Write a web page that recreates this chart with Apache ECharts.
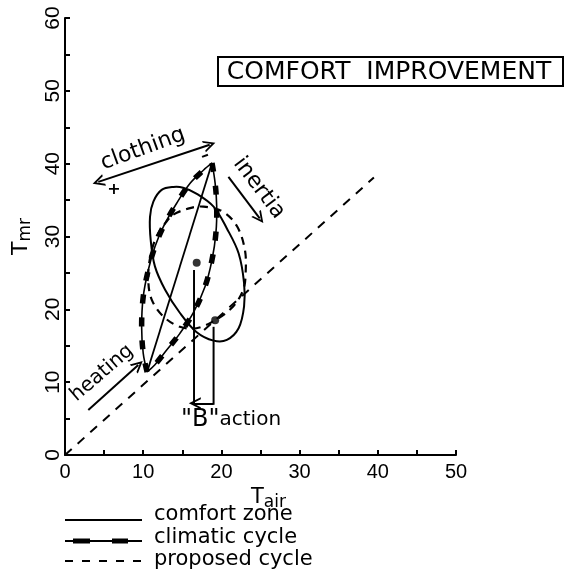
<!DOCTYPE html>
<html><head><meta charset="utf-8">
<script src="https://cdn.jsdelivr.net/npm/echarts@6/dist/echarts.min.js"></script>
<style>html,body{margin:0;padding:0;background:#fff}#c{width:568px;height:579px}</style>
</head><body><div id="c"></div>
<script>
// ---- data (Tair, Tmr) ----
const diagonalLine = [[0,0],[39.5,38.1]];
const comfortZone = [[13.85,36.8],[12.36,36.4],[11.3,34.8],[10.87,32.7],[10.96,29.5],[11.5,25.9],[12.8,22.7],[14.7,19.5],[16.8,16.9],[19.0,15.7],[20.7,15.8],[22.2,17.4],[22.9,20.4],[22.9,23.6],[22.2,27.7],[20.7,31.1],[19.0,34.1],[16.8,35.9],[15.1,36.7]];
const comfortDiagonal = [[10.5,11.4],[18.8,40.1]];
const climaticLeft = [[10.5,11.4],[10.0,14.0],[9.8,17.6],[10.0,21.7],[10.65,25.4],[11.5,28.6],[12.6,31.4],[14.3,34.6],[16.0,37.3],[17.7,39.1],[18.8,40.1]];
const climaticRight = [[18.8,40.1],[19.2,37.3],[19.4,34.1],[19.3,30.5],[18.8,26.8],[17.9,23.1],[16.4,19.5],[14.7,16.7],[13.0,14.4],[11.5,12.4],[10.5,11.4]];
const proposedCycle = [[13.85,33.0],[16.0,33.9],[17.7,34.1],[20.2,33.4],[22.0,31.4],[23.0,28.2],[23.1,25.0],[22.8,22.7],[21.5,20.4],[19.2,18.5],[16.8,17.4],[14.7,17.6],[12.6,19.0],[11.1,21.3],[10.65,24.0],[10.9,27.2],[11.7,30.0],[12.8,31.8]];
const actionDots = [[16.84,26.4],[19.2,18.5]];
const actionLeftLine = [[16.5,25.4],[16.5,6.9]];
const actionRightLine = [[19.0,17.6],[19.0,6.9]];
const actionArrow = [[19.0,7.1],[16.6,7.1]];
const clothingArrow = [[4.26,37.5],[18.5,42.6]];
const inertiaArrow = [[20.9,38.2],[24.9,32.5]];
const heatingArrow = [[2.98,6.18],[9.37,12.36]];
const xRange = [0, 50], yRange = [0, 60];
const legendNames = ['comfort zone', 'climatic cycle', 'proposed cycle'];
const titleText = 'COMFORT  IMPROVEMENT';

const NUMF = 'Liberation Sans';
const TXTF = 'DejaVu Sans';
const chevron = 'path://M5,0 L10,10 L8.3,10 L5,3.4 L1.7,10 L0,10 Z';

function curveSeries(pts, closed, style, smooth) {
  return {type:'custom', coordinateSystem:'cartesian2d', silent:true, clip:false, z:3,
    data:[pts[0]],
    renderItem: function(params, api) {
      return {type: closed ? 'polygon' : 'polyline',
        shape:{points: pts.map(p => api.coord(p)), smooth: smooth === undefined ? 0.35 : smooth},
        style: Object.assign({fill:'none', stroke:'#000', lineWidth:2}, style)};
    }};
}
function arrowSeries(coords, both) {
  return {type:'lines', coordinateSystem:'cartesian2d', silent:true,
    symbol: [both ? chevron : 'none', chevron], symbolSize: [12, 12],
    lineStyle:{color:'#000', width:2, opacity:1, curveness:0},
    data:[{coords}], z:4};
}

const chart = echarts.init(document.getElementById('c'), null, {renderer:'canvas'});
chart.setOption({
  animation:false,
  backgroundColor:'#fff',
  grid:{left:65, right:112, top:18, bottom:124, containLabel:false},
  xAxis:{type:'value', min:xRange[0], max:xRange[1], interval:10,
    axisLine:{show:true, onZero:false, lineStyle:{color:'#000', width:2}},
    axisTick:{show:true, inside:true, length:5, lineStyle:{color:'#000', width:2}},
    minorTick:{show:true, splitNumber:2, length:5, lineStyle:{color:'#000', width:2}},
    splitLine:{show:false},
    axisLabel:{color:'#000', fontSize:20, fontFamily:NUMF, margin:7},
    name:'{t|T}{s|air}', nameLocation:'middle', nameGap:25,
    nameTextStyle:{color:'#000', fontFamily:TXTF, padding:[0,0,0,16], rich:{
      t:{fontSize:21, fontFamily:TXTF, color:'#000'},
      s:{fontSize:17, fontFamily:TXTF, color:'#000', padding:[10,0,0,0]}}}
  },
  yAxis:{type:'value', min:yRange[0], max:yRange[1], interval:10,
    axisLine:{show:true, onZero:false, lineStyle:{color:'#000', width:2}},
    axisTick:{show:true, inside:true, length:5, lineStyle:{color:'#000', width:2}},
    minorTick:{show:true, splitNumber:2, length:5, lineStyle:{color:'#000', width:2}},
    splitLine:{show:false},
    axisLabel:{color:'#000', fontSize:21, fontFamily:NUMF, rotate:90, margin:1},
    name:'{t|T}{s|mr}', nameLocation:'middle', nameGap:31, nameRotate:90,
    nameTextStyle:{color:'#000', fontFamily:TXTF, rich:{
      t:{fontSize:22, fontFamily:TXTF, color:'#000'},
      s:{fontSize:17, fontFamily:TXTF, color:'#000', padding:[8,0,0,0]}}}
  },
  series:[
    curveSeries(diagonalLine, false, {lineDash:[9,8]}, 0),
    curveSeries(comfortZone, true, {lineWidth:2}),
    curveSeries(comfortDiagonal, false, {lineWidth:1.8}, 0),
    curveSeries(proposedCycle, true, {lineDash:[8,6], lineWidth:2.2}),
    curveSeries(climaticLeft, false, {lineWidth:1.6}),
    curveSeries(climaticRight, false, {lineWidth:1.6}),
    curveSeries(climaticLeft, false, {lineWidth:5.5, lineDash:[9,14], lineCap:'butt'}),
    curveSeries(climaticRight, false, {lineWidth:5.5, lineDash:[9,14], lineCap:'butt'}),
    curveSeries(actionLeftLine, false, {lineWidth:2}, 0),
    curveSeries(actionRightLine, false, {lineWidth:2}, 0),
    {type:'scatter', data:actionDots, symbol:'circle', symbolSize:8, itemStyle:{color:'#000'}, silent:true, z:5},
    arrowSeries(clothingArrow, true),
    arrowSeries(inertiaArrow, false),
    arrowSeries(heatingArrow, false),
    arrowSeries(actionArrow, false)
  ],
  graphic:[
    {type:'rect', shape:{x:218, y:57, width:345, height:29}, style:{fill:'#fff', stroke:'#000', lineWidth:2}, z:10},
    {type:'text', x:389, y:72, z:11, style:{text:titleText, font:'25px "DejaVu Sans"', fill:'#000', align:'center', verticalAlign:'middle'}},
    {type:'text', x:143, y:149, rotation:20*Math.PI/180, z:11, style:{text:'clothing', font:'22px "DejaVu Sans"', fill:'#000', align:'center', verticalAlign:'middle'}},
    {type:'text', x:114, y:190, z:11, style:{text:'+', font:'bold 16px "DejaVu Sans"', fill:'#000', align:'center', verticalAlign:'middle'}},
    {type:'text', x:205, y:156, rotation:20*Math.PI/180, z:11, style:{text:'–', font:'bold 16px "DejaVu Sans"', fill:'#000', align:'center', verticalAlign:'middle'}},
    {type:'text', x:259, y:188, rotation:-53*Math.PI/180, z:11, style:{text:'inertia', font:'22px "DejaVu Sans"', fill:'#000', align:'center', verticalAlign:'middle'}},
    {type:'text', x:102, y:373, rotation:40.6*Math.PI/180, z:11, style:{text:'heating', font:'20px "DejaVu Sans"', fill:'#000', align:'center', verticalAlign:'middle'}},
    {type:'text', x:231, y:420, z:11, style:{text:'{b|"B"}{a|action}', fill:'#000', align:'center', verticalAlign:'middle',
      rich:{b:{fontSize:24, fontFamily:TXTF, fill:'#000'}, a:{fontSize:20, fontFamily:TXTF, fill:'#000'}}}},
    // legend
    {type:'line', shape:{x1:65, y1:520, x2:142, y2:520}, style:{stroke:'#000', lineWidth:2}},
    {type:'line', shape:{x1:65, y1:541, x2:142, y2:541}, style:{stroke:'#000', lineWidth:1.8}},
    {type:'line', shape:{x1:73, y1:541, x2:90, y2:541}, style:{stroke:'#000', lineWidth:5}},
    {type:'line', shape:{x1:112, y1:541, x2:128, y2:541}, style:{stroke:'#000', lineWidth:5}},
    {type:'line', shape:{x1:65, y1:561, x2:142, y2:561}, style:{stroke:'#000', lineWidth:2, lineDash:[8,9]}},
    {type:'text', x:154, y:515, style:{text:legendNames[0], font:'21px "DejaVu Sans"', fill:'#000', align:'left', verticalAlign:'middle'}},
    {type:'text', x:154, y:538, style:{text:legendNames[1], font:'21px "DejaVu Sans"', fill:'#000', align:'left', verticalAlign:'middle'}},
    {type:'text', x:154, y:560, style:{text:legendNames[2], font:'21px "DejaVu Sans"', fill:'#000', align:'left', verticalAlign:'middle'}}
  ]
});
</script></body></html>
